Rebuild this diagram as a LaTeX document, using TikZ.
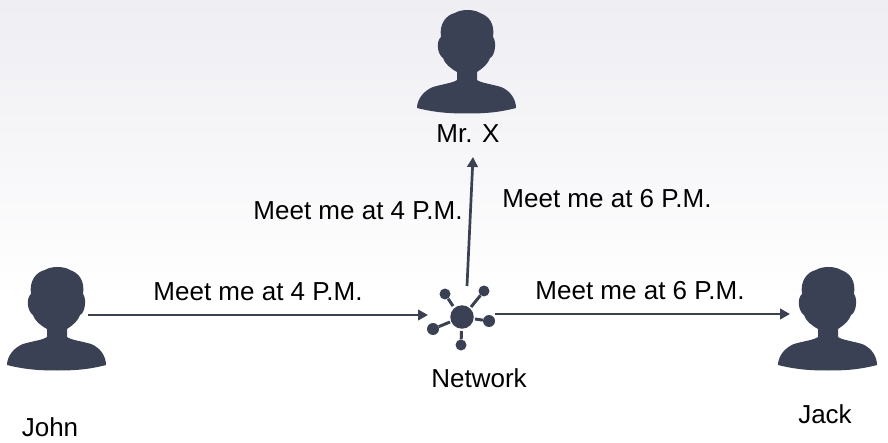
\documentclass[tikz,border=0pt]{standalone}
\usepackage{fontspec}
\setmainfont{Liberation Sans}
\usetikzlibrary{arrows.meta}
\definecolor{ink}{HTML}{3B4154}
\definecolor{bgtop}{HTML}{EEEEF3}
\tikzset{
  x=1pt,y=-1pt,
  lbl/.style={font=\fontsize{26}{30}\selectfont,text=black,inner sep=0pt,anchor=center},
  conn/.style={draw=ink,line width=2.7pt,-{Triangle[length=10pt,width=10.5pt]},shorten >=0pt},
  spoke/.style={draw=ink,line width=3pt},
  hub/.style={circle,fill=ink,inner sep=0pt},
  person/.pic={
    \fill[ink] (-10,60) -- (-10,70)
      .. controls (-14,73) and (-24,74) .. (-34,77)
      .. controls (-44,81) and (-50,90) .. (-50,98)
      .. controls (-30,103) and (-15,103.5) .. (0,103.5)
      .. controls (15,103.5) and (30,103) .. (49,98)
      .. controls (49,90) and (44,81) .. (34,77)
      .. controls (24,74) and (14,73) .. (10,70)
      -- (10,62)
      .. controls (16,58) and (21,54) .. (23,48)
      .. controls (28,46) and (30,32) .. (26,27)
      .. controls (28,14) and (22,6) .. (13,3)
      .. controls (7,-1) and (-6,-1) .. (-12,3)
      .. controls (-21,5) and (-28,14) .. (-26,27)
      .. controls (-31,31) and (-30,44) .. (-24,48)
      .. controls (-22,54) and (-17,58) .. (-10,62) -- cycle;
  }
}
\begin{document}
\begin{tikzpicture}
\useasboundingbox (0,0) rectangle (888,443);
\fill[white] (0,0) rectangle (888,443);
\shade[top color=bgtop,bottom color=white] (0,0) rectangle (888,300);
\pic at (467,10) {person};
\pic at (57,267) {person};
\pic at (828,267) {person};
% network icon
\node[hub,minimum size=23.5pt] (net) at (462,317) {};
\node[hub,minimum size=11pt] (s1) at (445,294) {};
\node[hub,minimum size=11pt] (s2) at (484,291) {};
\node[hub,minimum size=12pt] (s3) at (489,321) {};
\node[hub,minimum size=12pt] (s4) at (433,329) {};
\node[hub,minimum size=11pt] (s5) at (461,345) {};
\draw[spoke] (s1) -- (453,306);
\draw[spoke] (s2) -- (471,307);
\draw[spoke] (s3) -- (475,319);
\draw[spoke] (s4) -- (450,322);
\draw[spoke] (s5) -- (461.5,331);
% anchors
\coordinate (johnout) at (88,315);
\coordinate (netin) at (428,315);
\coordinate (netout) at (495,314);
\coordinate (jackin) at (790,314);
\coordinate (netup) at (467,286);
\coordinate (mrxin) at (473,157);
\draw[conn] (johnout) -- (netin);
\draw[conn] (netout) -- (jackin);
\draw[conn] (netup) -- (mrxin);
% labels
\node[lbl] (l1) at (358,211) {Meet me at 4 P.M.};
\node[lbl] (l2) at (607,199) {Meet me at 6 P.M.};
\node[lbl] (l3) at (258,292) {Meet me at 4 P.M.};
\node[lbl] (l4) at (640,291) {Meet me at 6 P.M.};
\node[lbl] (mrx) at (468,134) {Mr. X};
\node[lbl] (netl) at (479,378) {Network};
\node[lbl] (john) at (50,427) {John};
\node[lbl] (jack) at (825,414) {Jack};
\end{tikzpicture}
\end{document}
